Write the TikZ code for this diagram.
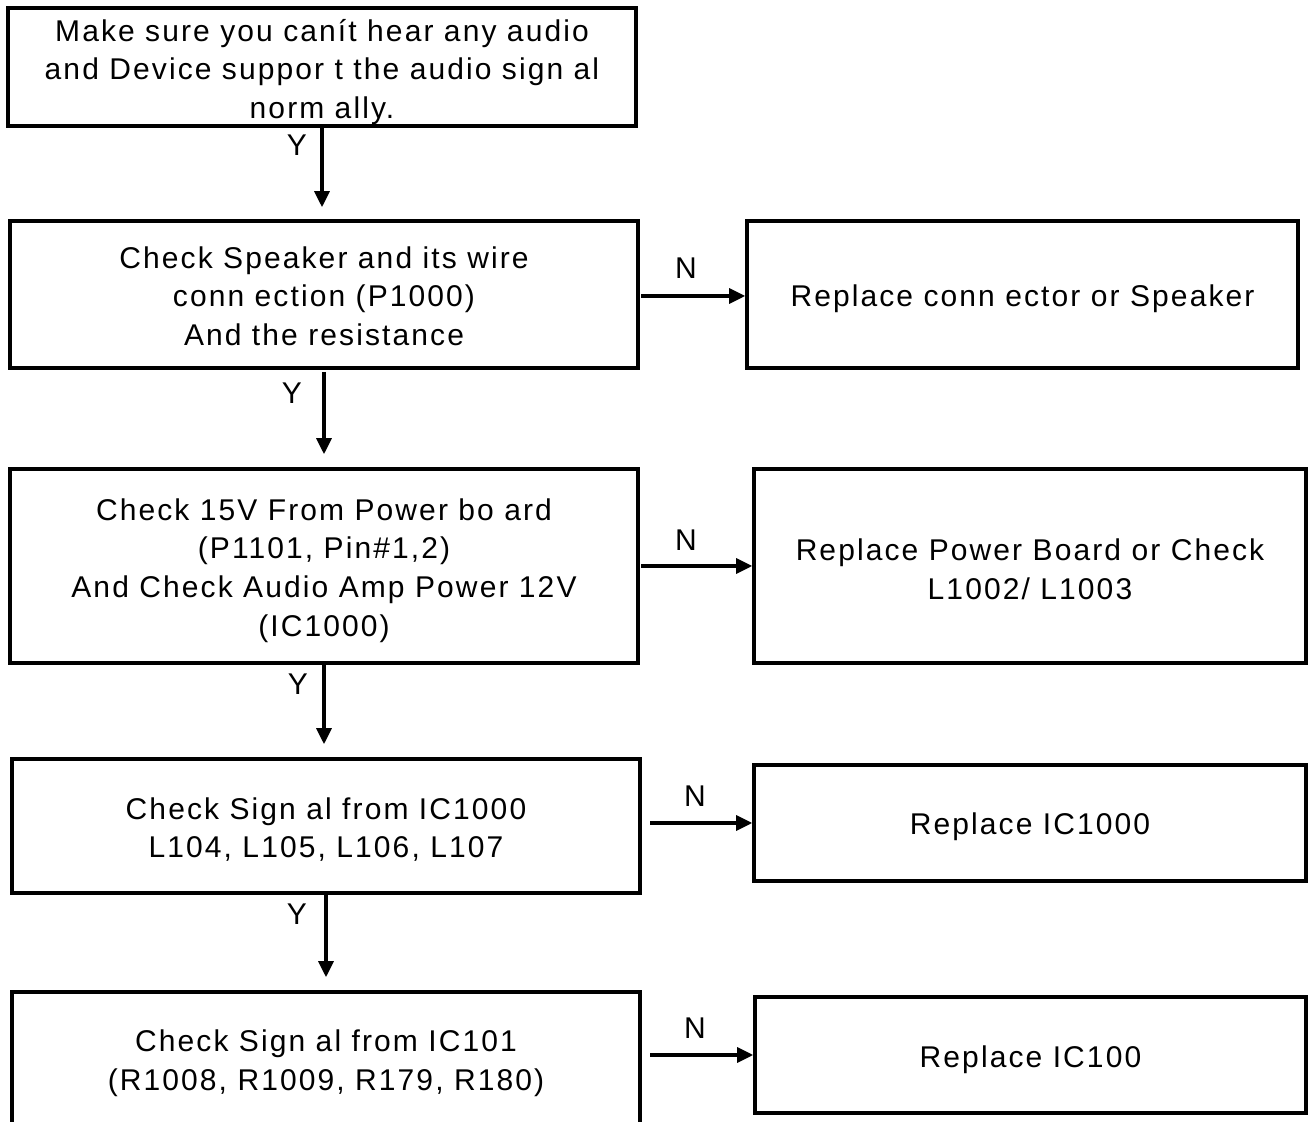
\documentclass[tikz,border=0pt]{standalone}
\usepackage{fontspec}
\setmainfont{Liberation Sans}[LetterSpace=7]
\usetikzlibrary{arrows.meta}
\begin{document}
\begin{tikzpicture}[x=0.5pt,y=-0.5pt,
  box/.style={draw, line width=1.8pt, inner sep=0pt},
  txt/.style={align=center, inner sep=0pt, font=\fontsize{15pt}{19.3pt}\selectfont},
  arr/.style={line width=1.6pt, -{Triangle[length=8pt,width=7.5pt]}},
  lbl/.style={font=\fontsize{15pt}{18pt}\selectfont, inner sep=0pt}]
\useasboundingbox (0,0) rectangle (1308,1122);
\node[box, minimum width=314pt, minimum height=59pt] (b1) at (322,67) {};
\node[box, minimum width=314pt, minimum height=73.5pt] (b2) at (324,294.5) {};
\node[box, minimum width=275.5pt, minimum height=73.5pt] (b3) at (1022.5,294.5) {};
\node[box, minimum width=314pt, minimum height=97pt] (b4) at (324,566) {};
\node[box, minimum width=276pt, minimum height=97pt] (b5) at (1030,566) {};
\node[box, minimum width=314pt, minimum height=67pt] (b6) at (326,826) {};
\node[box, minimum width=276pt, minimum height=58pt] (b7) at (1030,823) {};
\node[box, minimum width=314pt, minimum height=69pt] (b8) at (326,1061) {};
\node[box, minimum width=275.5pt, minimum height=58pt] (b9) at (1030.5,1055) {};
% texts
\node[txt] (t1) at (322,72)
  {Make sure you canít hear any audio\\and Device suppor t the audio sign al\\norm ally.};
\node[txt] (t2) at (324,296)
  {Check Speaker and its wire\\conn ection (P1000)\\And the resistance};
\node[txt] (t3) at (1022.5,298.5) {Replace conn ector or Speaker};
\node[txt] (t4) at (324,570.5)
  {Check 15V From Power bo ard\\(P1101, Pin\#1,2)\\And Check Audio Amp Power 12V\\(IC1000)};
\node[txt] (t5) at (1030,569) {Replace Power Board or Check\\L1002/ L1003};
\node[txt] (t6) at (326,829.5) {Check Sign al from IC1000\\L104, L105, L106, L107};
\node[txt] (t7) at (1030,826.5) {Replace IC1000};
\node[txt] (t8) at (326,1063.5) {Check Sign al from IC101\\(R1008, R1009, R179, R180)};
\node[txt] (t9) at (1030.5,1059.5) {Replace IC100};
% Y arrows
\draw[arr, shorten >=6pt] (b1.south) -- (b1.south |- b2.north);
\draw[arr, shorten >=6.5pt, shorten <=1pt] (b2.south) -- (b2.south |- b4.north);
\draw[arr, shorten >=6.5pt] (b4.south) -- (b4.south |- b6.north);
\draw[arr, shorten >=6.5pt] (b6.south) -- (b6.south |- b8.north);
% N arrows
\coordinate (n1) at (641,296);
\coordinate (n2) at (641,566);
\coordinate (n3) at (650,823);
\coordinate (n4) at (650,1055);
\draw[arr] (n1) -- (n1 -| b3.west);
\draw[arr] (n2) -- (n2 -| b5.west);
\draw[arr] (n3) -- (n3 -| b7.west);
\draw[arr] (n4) -- (n4 -| b9.west);
% labels
\node[lbl] (y1) at (297,145) {Y};
\node[lbl] (y2) at (292,393) {Y};
\node[lbl] (y3) at (298,684) {Y};
\node[lbl] (y4) at (297,914) {Y};
\node[lbl] (m1) at (686,268) {N};
\node[lbl] (m2) at (686,540) {N};
\node[lbl] (m3) at (695,796) {N};
\node[lbl] (m4) at (695,1028) {N};
\end{tikzpicture}
\end{document}
